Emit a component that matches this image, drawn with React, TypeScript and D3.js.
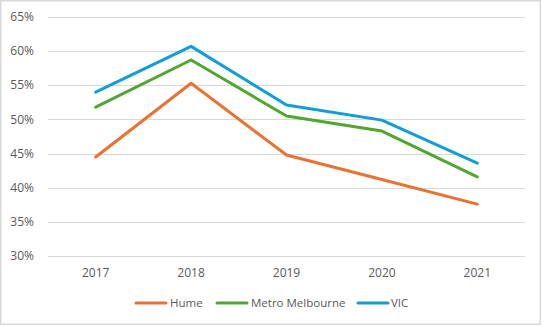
import React from "react";
import * as d3 from "d3";

const years = ["2017", "2018", "2019", "2020", "2021"];
const hume = [44.5, 55.3, 44.8, 41.2, 37.6];
const metroMelbourne = [51.8, 58.7, 50.5, 48.3, 41.6];
const vic = [54.0, 60.7, 52.1, 49.9, 43.6];
const yTicks = [30, 35, 40, 45, 50, 55, 60, 65];

const series = [
  { name: "Hume", values: hume, color: "#E97132" },
  { name: "Metro Melbourne", values: metroMelbourne, color: "#4EA72E" },
  { name: "VIC", values: vic, color: "#0F9ED5" },
];

const W = 542;
const H = 326;
const left = 48;
const right = 525;
const top = 17;
const bottom = 256;
const font = "'Open Sans', 'Liberation Sans', sans-serif";
const textColor = "#595959";

export default function App() {
  const x = d3.scaleBand<string>().domain(years).range([left, right]);
  const y = d3.scaleLinear().domain([30, 65]).range([bottom, top]);
  const line = d3
    .line<number>()
    .x((_, i) => (x(years[i]) as number) + x.bandwidth() / 2)
    .y((d) => y(d));

  const legendItems = [
    { lx: 136, tx: 170 },
    { lx: 217, tx: 251 },
    { lx: 358, tx: 391 },
  ];

  return (
    <svg
      width={W}
      height={H}
      style={{ position: "absolute", left: 0, top: 0, background: "#fff" }}
      fontFamily={font}
    >
      <rect x={0.75} y={0.75} width={539.5} height={323.5} fill="#fff" stroke="#D9D9D9" strokeWidth={1.5} />
      {yTicks.map((t) => (
        <g key={t}>
          <line x1={left} x2={right} y1={Math.round(y(t)) + 0.5} y2={Math.round(y(t)) + 0.5} stroke="#D9D9D9" strokeWidth={1.2} />
          <text x={34} y={y(t)} dy="0.35em" textAnchor="end" fontSize={12} fill={textColor}>
            {t}%
          </text>
        </g>
      ))}
      {years.map((yr) => (
        <text
          key={yr}
          x={(x(yr) as number) + x.bandwidth() / 2}
          y={273}
          dy="0.35em"
          textAnchor="middle"
          fontSize={12}
          fill={textColor}
        >
          {yr}
        </text>
      ))}
      {series.map((s) => (
        <path
          key={s.name}
          d={line(s.values) || ""}
          fill="none"
          stroke={s.color}
          strokeWidth={3}
          strokeLinejoin="round"
          strokeLinecap="round"
        />
      ))}
      {series.map((s, i) => (
        <g key={s.name}>
          <line
            x1={legendItems[i].lx}
            x2={legendItems[i].lx + 30}
            y1={303}
            y2={303}
            stroke={s.color}
            strokeWidth={3}
            strokeLinecap="round"
          />
          <text x={legendItems[i].tx} y={303} dy="0.35em" fontSize={11.5} fill={textColor}>
            {s.name}
          </text>
        </g>
      ))}
    </svg>
  );
}
